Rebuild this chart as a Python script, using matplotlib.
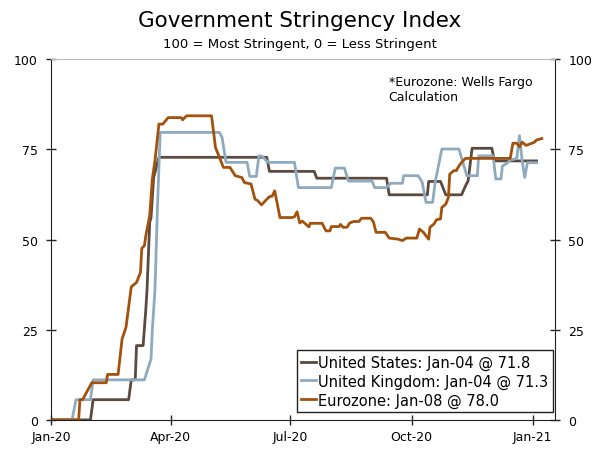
import pandas as pd
import numpy as np
import matplotlib.pyplot as plt
import matplotlib.dates as mdates

# ── Data ───────────────────────────────────────────────────────────────────────
us_dates = ["2020-01-01", "2020-01-31", "2020-02-02", "2020-02-29", "2020-03-02",
            "2020-03-05", "2020-03-06", "2020-03-11", "2020-03-13", "2020-03-14",
            "2020-03-16", "2020-03-17", "2020-03-19", "2020-03-23", "2020-06-13",
            "2020-06-15", "2020-07-19", "2020-07-21", "2020-09-12", "2020-09-14",
            "2020-10-13", "2020-10-14", "2020-10-23", "2020-10-27", "2020-11-08",
            "2020-11-11", "2020-11-13", "2020-11-16", "2020-12-01", "2020-12-03",
            "2021-01-04"]
us_vals = [0, 0, 5.6, 5.6, 11.1,
           11.1, 20.6, 20.6, 30.3, 36.3,
           54.8, 56.0, 67.2, 72.8, 72.8,
           68.9, 68.9, 67.0, 67.0, 62.4,
           62.4, 66.1, 66.1, 62.4, 62.4,
           64.9, 66.3, 75.3, 75.3, 71.8,
           71.8]

uk_dates = ["2020-01-01", "2020-01-17", "2020-01-20", "2020-01-31", "2020-02-02",
            "2020-03-12", "2020-03-17", "2020-03-18", "2020-03-20", "2020-03-22",
            "2020-03-24", "2020-05-08", "2020-05-10", "2020-05-13", "2020-05-29",
            "2020-05-31", "2020-06-05", "2020-06-07", "2020-06-09", "2020-06-14",
            "2020-07-04", "2020-07-07", "2020-08-01", "2020-08-04", "2020-08-11",
            "2020-08-14", "2020-09-01", "2020-09-03", "2020-09-12", "2020-09-15",
            "2020-09-24", "2020-09-25", "2020-10-06", "2020-10-09", "2020-10-12",
            "2020-10-17", "2020-10-19", "2020-10-24", "2020-11-06", "2020-11-09",
            "2020-11-12", "2020-11-20", "2020-11-21", "2020-12-02", "2020-12-04",
            "2020-12-08", "2020-12-09", "2020-12-12", "2020-12-15", "2020-12-20",
            "2020-12-22", "2020-12-24", "2020-12-26", "2020-12-28", "2021-01-04"]
uk_vals = [0, 0, 5.6, 5.6, 11.1,
           11.1, 16.9, 25.0, 36.0, 60.0,
           79.7, 79.7, 78.3, 71.4, 71.4,
           67.5, 67.5, 73.2, 73.2, 71.4,
           71.4, 64.4, 64.4, 69.8, 69.8,
           66.2, 66.2, 64.4, 64.4, 65.6,
           65.6, 67.7, 67.7, 66.0, 60.3,
           60.3, 66.0, 75.1, 75.1, 71.4,
           67.7, 67.7, 73.2, 73.2, 66.8,
           66.8, 70.4, 71.0, 72.0, 72.5,
           78.8, 72.0, 67.2, 71.3, 71.3]

ez_dates = ["2020-01-01", "2020-01-22", "2020-01-23", "2020-01-25", "2020-02-01",
            "2020-02-12", "2020-02-13", "2020-02-21", "2020-02-24", "2020-02-27",
            "2020-03-02", "2020-03-06", "2020-03-09", "2020-03-10", "2020-03-12",
            "2020-03-13", "2020-03-16", "2020-03-18", "2020-03-20", "2020-03-23",
            "2020-03-26", "2020-03-30", "2020-04-09", "2020-04-10", "2020-04-13",
            "2020-05-02", "2020-05-05", "2020-05-07", "2020-05-11", "2020-05-16",
            "2020-05-20", "2020-05-25", "2020-05-27", "2020-06-01", "2020-06-04",
            "2020-06-06", "2020-06-09", "2020-06-12", "2020-06-15", "2020-06-17",
            "2020-06-19", "2020-06-23", "2020-07-02", "2020-07-04", "2020-07-06",
            "2020-07-08", "2020-07-10", "2020-07-15", "2020-07-16", "2020-07-25",
            "2020-07-28", "2020-07-31", "2020-08-01", "2020-08-07", "2020-08-08",
            "2020-08-10", "2020-08-13", "2020-08-15", "2020-08-18", "2020-08-22",
            "2020-08-24", "2020-08-31", "2020-09-02", "2020-09-04", "2020-09-11",
            "2020-09-14", "2020-09-21", "2020-09-24", "2020-09-27", "2020-10-05",
            "2020-10-07", "2020-10-10", "2020-10-14", "2020-10-15", "2020-10-18",
            "2020-10-20", "2020-10-23", "2020-10-24", "2020-10-27", "2020-10-29",
            "2020-10-30", "2020-11-02", "2020-11-04", "2020-11-06", "2020-11-08",
            "2020-11-11", "2020-12-15", "2020-12-17", "2020-12-20", "2020-12-22",
            "2020-12-24", "2020-12-27", "2020-12-30", "2021-01-02", "2021-01-04",
            "2021-01-08"]
ez_vals = [0, 0, 5.6, 5.6, 10.3,
           10.3, 12.6, 12.6, 22.4, 25.7,
           36.9, 38.1, 40.9, 47.6, 48.3,
           51.0, 56.6, 66.8, 71.8, 82.0,
           82.0, 83.8, 83.8, 83.2, 84.3,
           84.3, 75.5, 73.7, 70.0, 70.0,
           67.7, 67.2, 65.8, 65.4, 61.2,
           60.8, 59.6, 60.8, 61.9, 62.0,
           63.5, 56.1, 56.1, 56.3, 57.7,
           54.6, 55.1, 53.5, 54.5, 54.5,
           52.4, 52.4, 53.6, 53.6, 54.2,
           53.4, 53.4, 54.6, 55.0, 55.0,
           55.9, 55.9, 54.9, 52.0, 52.0,
           50.4, 50.1, 49.7, 50.4, 50.4,
           52.9, 52.0, 50.1, 53.4, 54.3,
           55.5, 55.7, 58.9, 59.8, 61.7,
           68.1, 69.1, 69.1, 70.4, 71.4,
           72.5, 72.5, 76.7, 76.7, 75.7,
           77.0, 76.1, 76.5, 76.9, 77.6,
           78.0]

labels = ["United States: Jan-04 @ 71.8",
          "United Kingdom: Jan-04 @ 71.3",
          "Eurozone: Jan-08 @ 78.0"]
colors = ["#5b4a3f", "#8eaabf", "#a3520d"]

# ── Figure ──────────────────────────────────────────────────────────────────────
plt.rcParams["font.family"] = ["DejaVu Sans"]
fig = plt.figure(figsize=(6.0, 4.56), dpi=100)
ax = fig.add_axes([0.085, 0.077, 0.84, 0.791])

series = [(us_dates, us_vals), (uk_dates, uk_vals), (ez_dates, ez_vals)]
for (d, v), lbl, c in zip(series, labels, colors):
    ax.plot(pd.to_datetime(d), v, color=c, lw=2, label=lbl)

ax.set_ylim(0, 100)
ax.set_yticks([0, 25, 50, 75, 100])
ax.set_xlim(pd.Timestamp("2020-01-01"), pd.Timestamp("2021-01-18"))
ax.set_xticks(pd.to_datetime(["2020-01-01", "2020-04-01", "2020-07-01",
                              "2020-10-01", "2021-01-01"]))
ax.xaxis.set_major_formatter(mdates.DateFormatter("%b-%y"))

ax.tick_params(axis="both", direction="inout", length=7, width=1,
               labelsize=9, color="#222222")
ax.tick_params(axis="y", right=True, labelright=True, pad=6)
ax.tick_params(axis="x", pad=4)
for s in ["left", "right", "bottom"]:
    ax.spines[s].set_color("#222222")
ax.spines["top"].set_color("#bbbbbb")

# legend box sits in the lower right corner
leg = ax.legend(loc="lower right", fontsize=10.5, handlelength=1.05,
                handletextpad=0.15, borderpad=0.3, labelspacing=0.25,
                borderaxespad=0, fancybox=False, framealpha=1,
                bbox_to_anchor=(0.996, 0.022))
leg.get_frame().set_edgecolor("#222222")
leg.get_frame().set_linewidth(1)

ax.text(0.67, 0.955, "*Eurozone: Wells Fargo\nCalculation", transform=ax.transAxes,
        fontsize=9, va="top", ha="left")

fig.text(0.5, 0.953, "Government Stringency Index", ha="center", va="center",
         fontsize=15.5)
fig.text(0.5, 0.902, "100 = Most Stringent, 0 = Less Stringent", ha="center",
         va="center", fontsize=9.5)

plt.savefig("out.png", dpi=100)
